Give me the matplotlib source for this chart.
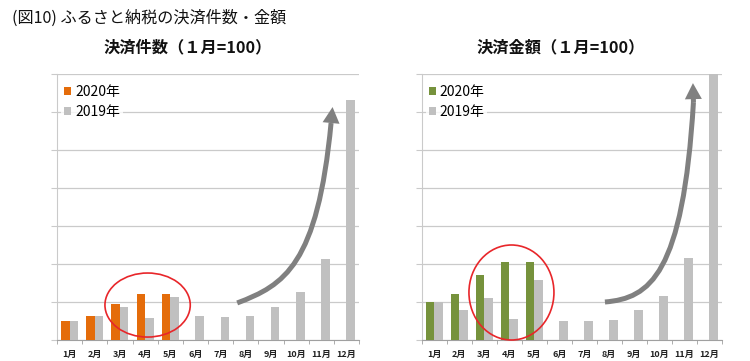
import matplotlib
matplotlib.use("Agg")
import numpy as np
import matplotlib.pyplot as plt
from matplotlib.patches import Ellipse, FancyArrowPatch
from matplotlib.path import Path

plt.rcParams['font.family'] = ['Noto Sans CJK JP', 'DejaVu Sans']

months = ['1月', '2月', '3月', '4月', '5月', '6月', '7月', '8月', '9月', '10月', '11月', '12月']

# 決済件数 (1月=100)
count_2020 = [100, 126, 189, 240, 240]
count_2019 = [100, 128, 175, 114, 228, 126, 121, 125, 175, 251, 428, 1263]

# 決済金額 (1月=100)
amount_2020 = [100, 122, 171, 206, 204]
amount_2019 = [100, 79, 110, 54, 158, 51, 49, 53, 78, 117, 217, 700]

GRAY = '#c0c0c0'
GRID = '#cacaca'
ARROW = '#808080'

fig = plt.figure(figsize=(7.5, 3.61), dpi=100)
fig.text(12 / 750, 1 - 18 / 361, '(図10) ふるさと納税の決済件数・金額', fontsize=11.6,
         va='center', ha='left', color='#111111')


def draw_panel(ax, v2020, v2019, color2020, ymax, ystep, shaft, tip, ell):
    x = np.arange(len(months))
    w = 0.34
    x20 = np.arange(len(v2020))
    ax.bar(x20 - w / 2, v2020, w, color=color2020, label='2020年', zorder=3)
    ax.bar(x + w / 2, v2019, w, color=GRAY, label='2019年', zorder=3)
    ax.set_xlim(-0.5, len(months) - 0.5)
    ax.set_ylim(0, ymax)
    ax.set_yticks(np.arange(0, ymax + 1, ystep))
    ax.set_yticklabels([])
    ax.yaxis.grid(True, color=GRID, lw=0.9, zorder=0)
    ax.tick_params(axis='y', length=4, color=GRID, direction='out')
    ax.set_xticks(x)
    ax.set_xticklabels(months, fontsize=6.5, fontweight='bold', color='#222222')
    ax.set_xticks(np.arange(-0.5, len(months)), minor=True)
    ax.tick_params(axis='x', which='major', length=0, pad=7)
    ax.tick_params(axis='x', which='minor', length=3, color='#a0a0a0')
    for s in ['top', 'right']:
        ax.spines[s].set_visible(False)
    ax.spines['left'].set_color(GRID)
    ax.spines['bottom'].set_color('#a0a0a0')
    ax.set_axisbelow(True)

    leg = ax.legend(loc='upper left', bbox_to_anchor=(0.0, 0.985), fontsize=10,
                    handlelength=0.5, handleheight=0.5, handletextpad=0.3,
                    labelspacing=0.45, borderpad=0.2, frameon=True, fancybox=False,
                    borderaxespad=0.3)
    leg.get_frame().set_facecolor('white')
    leg.get_frame().set_edgecolor('none')
    leg.set_zorder(4)

    # curved shaft
    path = Path(shaft, [Path.MOVETO, Path.CURVE4, Path.CURVE4, Path.CURVE4])
    ax.add_patch(FancyArrowPatch(path=path, arrowstyle='-', color=ARROW, lw=3.6,
                                 capstyle='butt', transform=ax.transData, zorder=5,
                                 clip_on=False))
    # filled head
    ax.add_patch(FancyArrowPatch(shaft[-1], tip,
                                 arrowstyle='simple,head_length=1.6,head_width=1.7,tail_width=0.5',
                                 mutation_scale=7.2, color=ARROW, lw=0, shrinkA=0, shrinkB=0,
                                 transform=ax.transData, zorder=5, clip_on=False))

    e = Ellipse(ell[0], ell[1], ell[2], transform=ax.transData, fill=False,
                edgecolor='#e8262a', lw=1.2, zorder=6, clip_on=False)
    ax.add_patch(e)


ax1 = fig.add_axes([57 / 750, 21 / 361, 302 / 750, 266 / 361])
draw_panel(ax1, count_2020, count_2019, '#e46c0a', 1400, 200,
           [(6.66, 195), (8.54, 289), (9.85, 395), (10.39, 1142)], (10.45, 1226),
           ((3.10, 184), 3.39, 337))
fig.text(188 / 750, 1 - 47 / 361, '決済件数（１月=100）', fontsize=11.7, fontweight='bold',
         ha='center', va='center', color='#111111')

ax2 = fig.add_axes([421.7 / 750, 21 / 361, 300 / 750, 266 / 361])
draw_panel(ax2, amount_2020, amount_2019, '#76923c', 700, 100,
           [(6.83, 100), (8.63, 110), (9.95, 171), (10.37, 626)], (10.35, 676),
           ((3.09, 125), 3.4, 250))
fig.text(561 / 750, 1 - 47 / 361, '決済金額（１月=100）', fontsize=11.7, fontweight='bold',
         ha='center', va='center', color='#111111')

fig.savefig('out.png', dpi=100)
